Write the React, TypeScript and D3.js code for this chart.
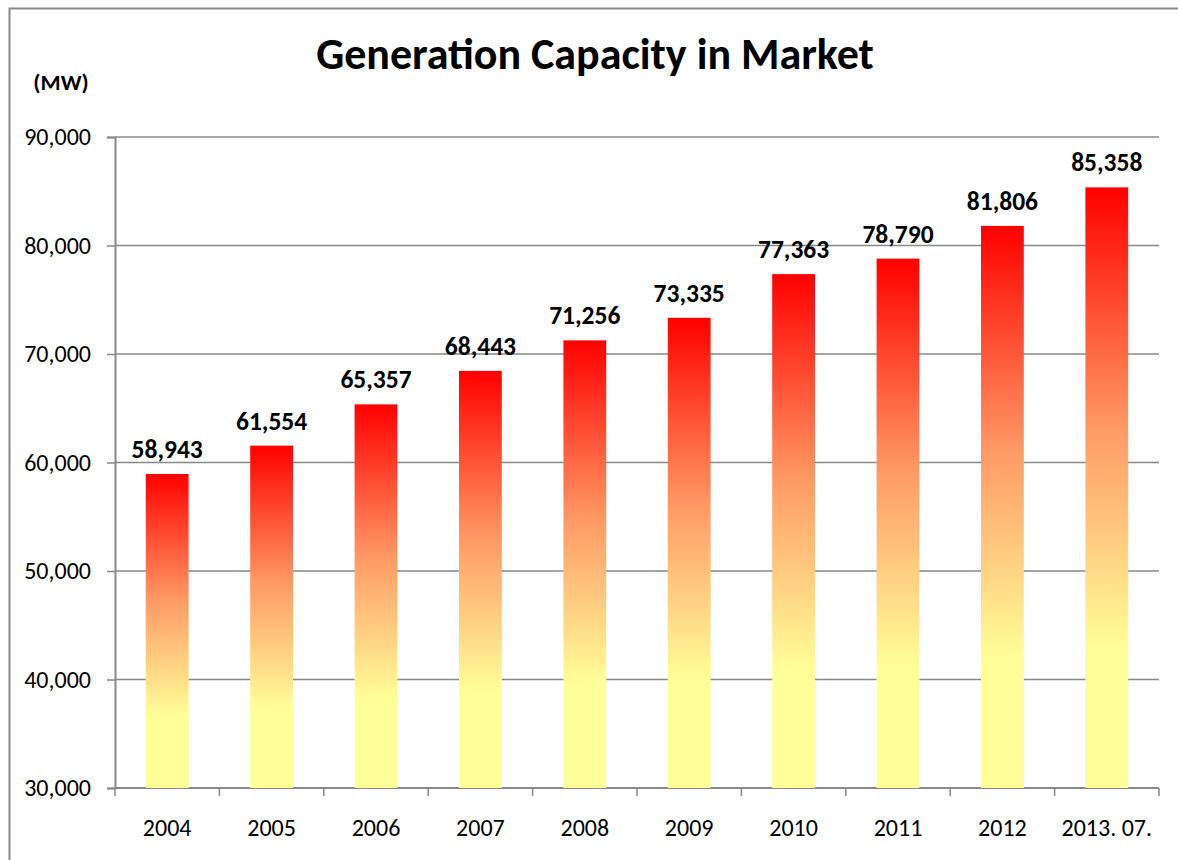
import React, { useEffect, useRef } from 'react';
import * as d3 from 'd3';

const categories = ['2004', '2005', '2006', '2007', '2008', '2009', '2010', '2011', '2012', '2013. 07.'];
const capacity = [58943, 61554, 65357, 68443, 71256, 73335, 77363, 78790, 81806, 85358];
const yTicks = [30000, 40000, 50000, 60000, 70000, 80000, 90000];

const width = 1178,
  height = 860;
const font = "Carlito, Lato, 'Open Sans', sans-serif";

export default function App() {
  const ref = useRef<SVGSVGElement>(null);

  useEffect(() => {
    const svg = d3.select(ref.current);
    svg.selectAll('*').remove();

    const left = 115,
      right = 1159,
      top = 137,
      bottom = 788;

    // gradient, one per bar (bounding box)
    const grad = svg.append('defs').append('linearGradient')
      .attr('id', 'fire')
      .attr('x1', 0).attr('y1', 0).attr('x2', 0).attr('y2', 1);
    [
      [0, '#FF0000'],
      [0.4, '#FF9966'],
      [0.77, '#FFFF99'],
      [1, '#FFFF99'],
    ].forEach(([o, c]) => {
      grad.append('stop').attr('offset', o as number).attr('stop-color', c as string);
    });

    // outer frame
    svg.append('path')
      .attr('d', `M9.5,${height} V8.5 H${width}`)
      .attr('fill', 'none')
      .attr('stroke', '#888')
      .attr('stroke-width', 2);

    const x = d3.scaleBand()
      .domain(categories)
      .range([left, right])
      .paddingInner(0.59)
      .paddingOuter(0.295);
    const y = d3.scaleLinear().domain([30000, 90000]).range([bottom, top]);

    // gridlines
    svg.append('g')
      .selectAll('line')
      .data(yTicks.slice(1))
      .join('line')
      .attr('x1', left)
      .attr('x2', right)
      .attr('y1', d => y(d))
      .attr('y2', d => y(d))
      .attr('stroke', '#888')
      .attr('stroke-width', 1.5);

    // y axis
    const yAxis = svg.append('g')
      .attr('transform', `translate(${left},0)`)
      .call(d3.axisLeft(y).tickValues(yTicks).tickSize(8).tickFormat(d3.format(',')));
    yAxis.select('.domain').attr('stroke', '#888').attr('stroke-width', 2);
    yAxis.selectAll('.tick line').attr('stroke', '#888').attr('stroke-width', 1.5);
    yAxis.selectAll('.tick text')
      .attr('x', -24)
      .attr('font-family', font)
      .attr('font-size', 24)
      .attr('fill', '#000');

    // x axis
    const step = x.step();
    const bounds = d3.range(categories.length + 1).map(i => left + i * step);
    const xg = svg.append('g');
    xg.append('line')
      .attr('x1', left).attr('x2', right)
      .attr('y1', bottom).attr('y2', bottom)
      .attr('stroke', '#888').attr('stroke-width', 2);
    xg.selectAll('line.tk')
      .data(bounds)
      .join('line')
      .attr('class', 'tk')
      .attr('x1', d => d).attr('x2', d => d)
      .attr('y1', bottom).attr('y2', bottom + 8)
      .attr('stroke', '#888').attr('stroke-width', 1.5);
    xg.selectAll('text')
      .data(categories)
      .join('text')
      .attr('x', d => (x(d) as number) + x.bandwidth() / 2)
      .attr('y', 836)
      .attr('text-anchor', 'middle')
      .attr('font-family', font)
      .attr('font-size', 24)
      .text(d => d);

    // bars
    svg.append('g')
      .selectAll('rect')
      .data(capacity)
      .join('rect')
      .attr('x', (d, i) => x(categories[i]) as number)
      .attr('width', x.bandwidth())
      .attr('y', d => y(d))
      .attr('height', d => bottom - y(d))
      .attr('fill', 'url(#fire)');

    // value labels
    svg.append('g')
      .selectAll('text')
      .data(capacity)
      .join('text')
      .attr('x', (d, i) => (x(categories[i]) as number) + x.bandwidth() / 2)
      .attr('y', d => y(d) - 16)
      .attr('text-anchor', 'middle')
      .attr('font-family', font)
      .attr('font-size', 25.5)
      .attr('font-weight', 'bold')
      .text(d => d3.format(',')(d));

    // title and unit
    svg.append('text')
      .attr('x', 595)
      .attr('y', 69)
      .attr('text-anchor', 'middle')
      .attr('font-family', font)
      .attr('font-size', 44)
      .attr('font-weight', 'bold')
      .text('Generation Capacity in Market');
    svg.append('text')
      .attr('x', 61)
      .attr('y', 90)
      .attr('text-anchor', 'middle')
      .attr('font-family', font)
      .attr('font-size', 23)
      .attr('font-weight', 'bold')
      .text('(MW)');
  }, []);

  return (
    <svg
      ref={ref}
      width={width}
      height={height}
      style={{ position: 'absolute', left: 0, top: 0, background: '#fff' }}
    />
  );
}
